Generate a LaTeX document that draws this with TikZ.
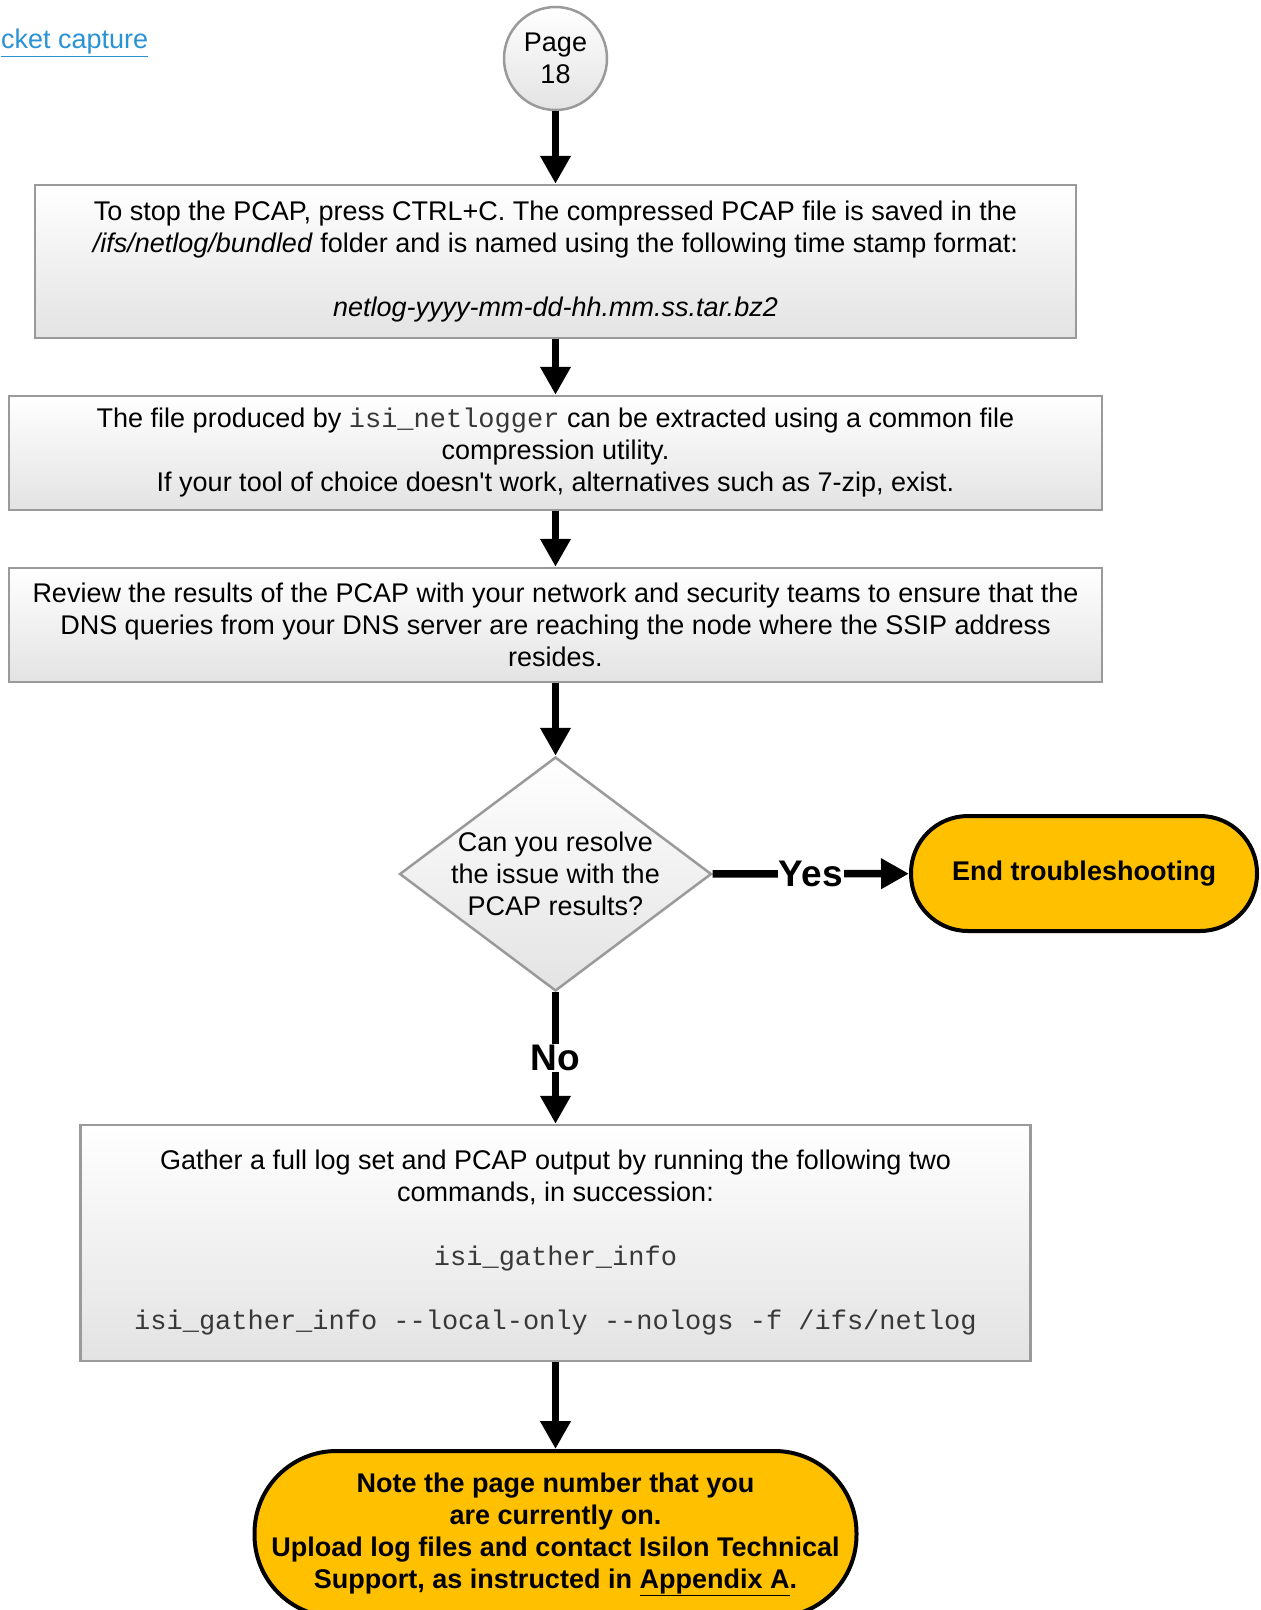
\documentclass[tikz,border=0pt]{standalone}
\usepackage{fontspec}
\setmainfont{Liberation Sans}
\setmonofont{Liberation Mono}
\usetikzlibrary{shapes.geometric,arrows.meta}

\definecolor{boxgray}{HTML}{9A9A9A}
\definecolor{amber}{HTML}{FFC000}
\definecolor{linkblue}{HTML}{2A93D5}
\newcommand{\cmdtext}[1]{\textcolor{black!78}{\texttt{#1}}}

\begin{document}
\begin{tikzpicture}[x=1pt,y=-1pt,
  txt/.style={font=\fontsize{27}{32}\selectfont, align=center},
  stepbox/.style={txt, draw=boxgray, line width=2.5pt, top color=white, bottom color=black!11,
                  rectangle, inner sep=0pt},
  pagecircle/.style={txt, circle, draw=boxgray, line width=2.5pt, top color=white, bottom color=black!11,
                  inner sep=0pt, minimum size=103pt},
  decision/.style={diamond, draw=boxgray, line width=2.5pt, top color=white, bottom color=black!11,
                  inner sep=0pt, minimum width=312pt, minimum height=234pt},
  terminal/.style={txt, rectangle, draw=black, line width=4pt, fill=amber, inner sep=0pt,
                  font=\fontsize{27}{32}\selectfont\bfseries},
  flow/.style={line width=7.5pt, -{Triangle[width=29pt,length=28pt]}},
  branch/.style={font=\fontsize{37}{40}\selectfont\bfseries, fill=white, inner sep=1pt}
]
\useasboundingbox (0,0) rectangle (1261,1610);
\fill[white] (0,0) rectangle (1261,1610);
\clip (0,0) rectangle (1261,1610);

% link back to the previous section
\node[txt, anchor=west, text=linkblue, inner sep=0pt] (link) at (1,43) {\underline{cket capture}};

% page connector
\node[pagecircle] (page) at (555.5,58.5) {Page\\18};

% process steps
\node[stepbox, minimum width=1041pt, minimum height=153pt] (stop) at (555.5,261.5)
  {To stop the PCAP, press CTRL+C. The compressed PCAP file is saved in the\\
   \textit{/ifs/netlog/bundled} folder and is named using the following time stamp format:\\[32pt]
   \textit{netlog-yyyy-mm-dd-hh.mm.ss.tar.bz2}};

\node[stepbox, minimum width=1093pt, minimum height=114pt] (extract) at (555.5,453)
  {The file produced by \cmdtext{isi\_netlogger} can be extracted using a common file\\
   compression utility.\\
   If your tool of choice doesn\textquotesingle t work, alternatives such as 7-zip, exist.};

\node[stepbox, minimum width=1093pt, minimum height=114pt] (review) at (555.5,625)
  {Review the results of the PCAP with your network and security teams to ensure that the\\
   DNS queries from your DNS server are reaching the node where the SSIP address\\
   resides.};

% decision
\node[decision, label={[txt]center:Can you resolve\\the issue with the\\PCAP results?}] (resolve) at (555.5,874) {};

\node[terminal, rounded corners=57pt, minimum width=346pt, minimum height=115pt] (end) at (1084,873.5)
  {End troubleshooting};

\node[stepbox, minimum width=950pt, minimum height=236pt] (gather) at (555.5,1243)
  {Gather a full log set and PCAP output by running the following two\\
   commands, in succession:\\[32pt]
   \cmdtext{isi\_gather\_info}\\[32pt]
   \cmdtext{isi\_gather\_info --local-only --nologs -f /ifs/netlog}};

\node[terminal, rounded corners=82pt, minimum width=602pt, minimum height=166pt] (contact) at (555.5,1534)
  {Note the page number that you\\
   are currently on.\\
   Upload log files and contact Isilon Technical\\
   Support, as instructed in \underline{Appendix A}.};

% connectors
\draw[flow] (page) -- (stop);
\draw[flow] (stop) -- (extract);
\draw[flow] (extract) -- (review);
\draw[flow] (review) -- (resolve);
\draw[flow] (resolve) -- node[branch] (yes) {Yes} (end);
\draw[flow] (resolve) -- node[branch] (no) {No} (gather);
\draw[flow] (gather) -- (contact);
\end{tikzpicture}
\end{document}
